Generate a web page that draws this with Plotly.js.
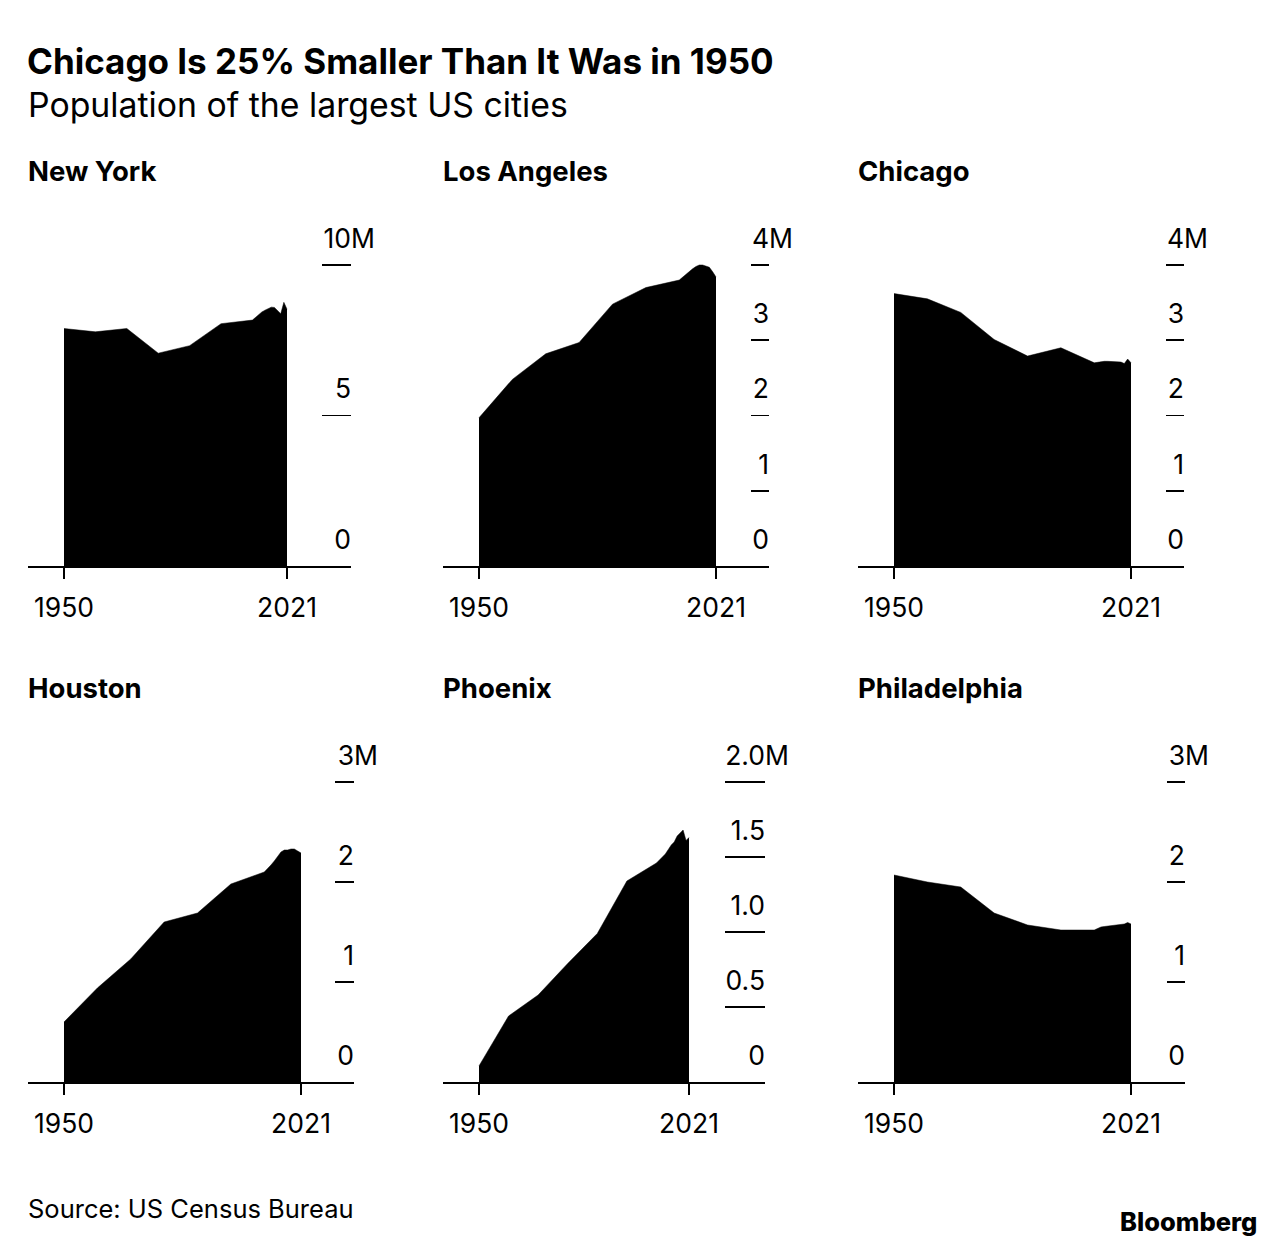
<!DOCTYPE html>
<html><head><meta charset="utf-8">
<script src="https://cdn.plot.ly/plotly-3.0.1.min.js"></script>
<style>html,body{margin:0;padding:0;background:#fff}#chart{width:1287px;height:1248px}</style>
</head><body><div id="chart"></div>
<script>
// ---- data (population, millions) ----
const years = [1950,1960,1970,1980,1990,2000,2010,2011,2012,2013,2014,2015,2016,2017,2018,2019,2020,2021];
const cities = ["New York","Los Angeles","Chicago","Houston","Phoenix","Philadelphia"];
const newYork      = [7.89,7.78,7.89,7.07,7.32,8.05,8.17,8.27,8.37,8.44,8.50,8.55,8.60,8.59,8.48,8.38,8.76,8.53];
const losAngeles   = [1.97,2.48,2.82,2.97,3.48,3.70,3.80,3.84,3.88,3.92,3.95,3.98,4.00,4.00,3.99,3.97,3.91,3.84];
const chicago      = [3.62,3.55,3.37,3.01,2.79,2.90,2.70,2.71,2.72,2.72,2.72,2.72,2.72,2.72,2.71,2.69,2.75,2.70];
const houston      = [0.60,0.94,1.23,1.60,1.69,1.98,2.10,2.13,2.17,2.21,2.26,2.30,2.32,2.32,2.33,2.33,2.31,2.29];
const phoenix      = [0.107,0.44,0.58,0.79,0.99,1.34,1.46,1.48,1.50,1.52,1.55,1.58,1.60,1.64,1.66,1.68,1.61,1.63];
const philadelphia = [2.07,2.00,1.95,1.69,1.57,1.52,1.52,1.535,1.55,1.555,1.56,1.565,1.57,1.575,1.58,1.58,1.595,1.58];
const series = [newYork, losAngeles, chicago, houston, phoenix, philadelphia];

const yTickVals = [[0,5,10],[0,1,2,3,4],[0,1,2,3,4],[0,1,2,3],[0,0.5,1,1.5,2],[0,1,2,3]];
const yTickText = [["0","5","10"],["0","1","2","3","4"],["0","1","2","3","4"],["0","1","2","3"],["0","0.5","1.0","1.5","2.0"],["0","1","2","3"]];
const unitSuffix = "M";
const xTickVals = [1950, 2021];
const xTickText = ["1950", "2021"];

const titleText = "Chicago Is 25% Smaller Than It Was in 1950";
const subtitleText = "Population of the largest US cities";
const sourceText = "Source: US Census Bureau";
const brandText = "Bloomberg";

// ---- layout geometry (pixels) ----
const W = 1287, H = 1248;
const FONT = "Inter, 'Liberation Sans', Arial, sans-serif";
const TICK_SIZE = 26.5;
const geom = [
  {L:28,  R:351,  p0:64,  p1:287,  top:190, bot:566,  tickTop:265, tl:29, ty:171},
  {L:443, R:769,  p0:479, p1:716,  top:190, bot:566,  tickTop:265, tl:18, ty:171},
  {L:858, R:1184, p0:894, p1:1131, top:190, bot:566,  tickTop:265, tl:18, ty:171},
  {L:28,  R:354,  p0:64,  p1:301,  top:707, bot:1082, tickTop:782, tl:19, ty:688},
  {L:443, R:765,  p0:479, p1:689,  top:707, bot:1082, tickTop:782, tl:40, ty:688},
  {L:858, R:1185, p0:894, p1:1131, top:707, bot:1082, tickTop:782, tl:18, ty:688}
];

const data = [];
const layout = {
  width: W, height: H,
  margin: {l:0, r:0, t:0, b:0},
  paper_bgcolor: "#fff", plot_bgcolor: "rgba(0,0,0,0)",
  showlegend: false,
  font: {family: FONT, color: "#000", size: 24},
  title: {
    text: titleText, xref: "paper", yref: "container",
    x: 27/W, xanchor: "left", y: 1 - 62/H, yanchor: "middle",
    font: {family: FONT, size: 35, weight: 700, color: "#000"}
  },
  annotations: [],
  hovermode: false
};

layout.annotations.push({
  text: subtitleText, xref: "paper", yref: "paper", x: 28/W, xanchor: "left", xshift: -2,
  y: 1 - 104/H, yanchor: "middle", showarrow: false,
  font: {family: FONT, size: 33.8, color: "#000"}
});
layout.annotations.push({
  text: sourceText, xref: "paper", yref: "paper", x: 28/W, xanchor: "left", xshift: -2,
  y: 1 - 1208/H, yanchor: "middle", showarrow: false,
  font: {family: FONT, size: 25.5, color: "#000"}
});
layout.annotations.push({
  text: brandText, xref: "paper", yref: "paper", x: 1259/W, xanchor: "right",
  y: 1 - 1221/H, yanchor: "middle", showarrow: false,
  font: {family: FONT, size: 25.5, weight: 800, color: "#000"}
});

series.forEach((vals, i) => {
  const g = geom[i];
  const n = i + 1;
  const xa = n === 1 ? "x" : "x" + n;
  const ya = n === 1 ? "y" : "y" + n;
  const xKey = n === 1 ? "xaxis" : "xaxis" + n;
  const yKey = n === 1 ? "yaxis" : "yaxis" + n;
  const tv = yTickVals[i];
  const tmax = tv[tv.length - 1];
  const slope = (g.p1 - g.p0) / (xTickVals[1] - xTickVals[0]);
  const xmin = xTickVals[0] - (g.p0 - g.L) / slope;
  const xmax = xTickVals[1] + (g.R - g.p1) / slope;
  const ymax = tmax * (g.bot - g.top) / (g.bot - g.tickTop);

  data.push({
    type: "scatter", mode: "lines", x: years, y: vals,
    xaxis: xa, yaxis: ya, fill: "tozeroy", fillcolor: "#000",
    line: {color: "#000", width: 0.5}, hoverinfo: "skip"
  });

  layout[xKey] = {
    domain: [g.L / W, g.R / W], range: [xmin, xmax], anchor: ya,
    showgrid: false, zeroline: false, showline: true, linecolor: "#000", linewidth: 1.6,
    ticks: "outside", ticklen: 11, tickwidth: 1.6, tickcolor: "#000",
    ticklabelstandoff: 7,
    tickvals: xTickVals, ticktext: xTickText,
    tickfont: {family: FONT, size: TICK_SIZE, color: "#000"}, fixedrange: true
  };
  layout[yKey] = {
    domain: [1 - g.bot / H, 1 - g.top / H], range: [0, ymax], anchor: xa, side: "right",
    showgrid: false, zeroline: false, showline: false,
    ticks: "inside", ticklen: g.tl, tickwidth: 1.6, tickcolor: "#000",
    ticklabelposition: "inside top", ticklabelshift: -7, ticklabelstandoff: -3,
    tickvals: tv, ticktext: yTickText[i],
    tickfont: {family: FONT, size: TICK_SIZE, color: "#000"}, fixedrange: true
  };

  layout.annotations.push({
    text: cities[i], xref: "paper", yref: "paper", x: g.L / W, xanchor: "left", xshift: -2,
    y: 1 - g.ty / H, yanchor: "middle", showarrow: false,
    font: {family: FONT, size: 27.5, weight: 700, color: "#000"}
  });
  layout.annotations.push({
    text: unitSuffix, xref: xa + " domain", yref: ya, x: 1, xanchor: "left",
    y: tmax, yanchor: "bottom", yshift: 9, xshift: -2, showarrow: false,
    font: {family: FONT, size: TICK_SIZE, color: "#000"}
  });
});

Plotly.newPlot("chart", data, layout, {displayModeBar: false, staticPlot: true});
</script>
</body></html>
